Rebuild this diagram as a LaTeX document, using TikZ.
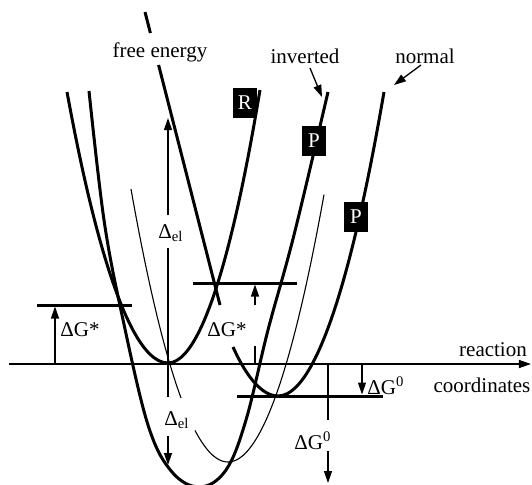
\documentclass[tikz,border=0pt]{standalone}
\usepackage{fontspec}
\setmainfont{Liberation Serif}
\usetikzlibrary{arrows.meta, positioning}
\tikzset{
    myarrow/.style={-{Triangle[length=6pt,width=4pt]}},
    curve/.style={line width=1.5pt},
    thincurve/.style={line width=0.55pt},
    level/.style={line width=1.5pt},
    axis/.style={line width=0.65pt},
    tag/.style={fill=black, text=white, minimum width=12pt, minimum height=15pt, inner sep=0pt, font=\fontsize{10.5}{12}\selectfont},
    lbl/.style={font=\fontsize{10.5}{12}\selectfont, inner sep=1pt}
}

\begin{document}
\begin{tikzpicture}[x=0.5pt, y=-0.5pt]
    \useasboundingbox (0,0) rectangle (532,484);

    % reaction coordinate
    \coordinate (ax0) at (9,364);
    \coordinate (ax1) at (531,364);
    \draw[axis, myarrow] (ax0) -- (ax1);
    \node (react) [lbl] at (493,350) {reaction};
    \node (coord) [lbl] at (482,385) {coordinates};

    % free energy
    \node (fe) [lbl] at (160,52) {free energy};
    \draw[curve] (145,12) -- (150.4,33);
    \draw[curve] (158.6,65) -- (220,305);

    % parabolas
    \draw[curve] (67,92) parabola bend (168,363) (260,90);
    \draw[curve] plot[smooth, tension=0.6] coordinates {(89,91) (104,220) (122,315) (148,425) (172,472) (200,487) (226,470) (246,420) (268,330) (294,235) (328,92)};
    \draw[curve] (233,347) parabola bend (278,396) (384,92);
    \draw[thincurve] plot[domain=-97:-47, samples=30] ({228+\x},{462-0.029*\x*\x});
    \draw[thincurve] plot[domain=-33:96, samples=60] ({228+\x},{462-0.029*\x*\x});

    % levels
    \coordinate (lvA1) at (37,305);
    \coordinate (lvA2) at (132,305);
    \coordinate (lvB1) at (193,283);
    \coordinate (lvB2) at (297,283);
    \coordinate (lvC1) at (237,396);
    \coordinate (lvC2) at (383,396);
    \draw[level] (lvA1) -- (lvA2);
    \draw[level] (lvB1) -- (lvB2);
    \draw[level] (lvC1) -- (lvC2);

    % Delta G* left
    \coordinate (gsA0) at (55,364);
    \coordinate (gsA1) at (55,306.5);
    \draw[axis, myarrow] (gsA0) -- (gsA1);
    \node (gsA) [lbl, anchor=west] at (58,330) {ΔG*};

    % Delta G* middle
    \coordinate (gsB0) at (255,364);
    \coordinate (gsB1) at (255,346);
    \coordinate (gsB2) at (255,305);
    \coordinate (gsB3) at (255,284.5);
    \draw[axis] (gsB0) -- (gsB1);
    \draw[axis, myarrow] (gsB2) -- (gsB3);
    \node (gsB) [lbl] at (227,330) {ΔG*};

    % Delta G0
    \coordinate (gzA0) at (362,364);
    \coordinate (gzA1) at (362,394.5);
    \draw[axis, myarrow] (gzA0) -- (gzA1);
    \node (gzA) [lbl, anchor=west] at (365,386) {ΔG\textsuperscript{0}};
    \coordinate (gzB0) at (328,364);
    \coordinate (gzB1) at (328,420);
    \coordinate (gzB2) at (328,451);
    \coordinate (gzB3) at (328,483);
    \draw[axis] (gzB0) -- (gzB1);
    \draw[axis, myarrow] (gzB2) -- (gzB3);
    \node (gzB) [lbl] at (313,441) {ΔG\textsuperscript{0}};

    % Delta el
    \coordinate (elA0) at (168,215);
    \coordinate (elA1) at (168,118);
    \coordinate (elB0) at (168,248);
    \coordinate (elB1) at (168,397);
    \coordinate (elC0) at (168,436);
    \coordinate (elC1) at (168,465);
    \draw[axis, myarrow] (elA0) -- (elA1);
    \draw[axis] (elB0) -- (elB1);
    \draw[axis, myarrow] (elC0) -- (elC1);
    \node (elA) [lbl] at (171,233) {Δ\textsubscript{el}};
    \node (elB) [lbl] at (177,420) {Δ\textsubscript{el}};

    % curve names
    \node (inv) [lbl] at (305,56) {inverted};
    \node (nor) [lbl] at (425,56) {normal};
    \coordinate (invtip) at (322,97);
    \coordinate (nortip) at (394,85);
    \draw[axis, myarrow] (310,68) -- (invtip);
    \draw[axis, myarrow] (421,65) -- (nortip);

    \node (tagR) [tag] at (245,103) {R};
    \node (tagPi) [tag] at (314,141) {P};
    \node (tagPn) [tag] at (356,217) {P};
\end{tikzpicture}
\end{document}
